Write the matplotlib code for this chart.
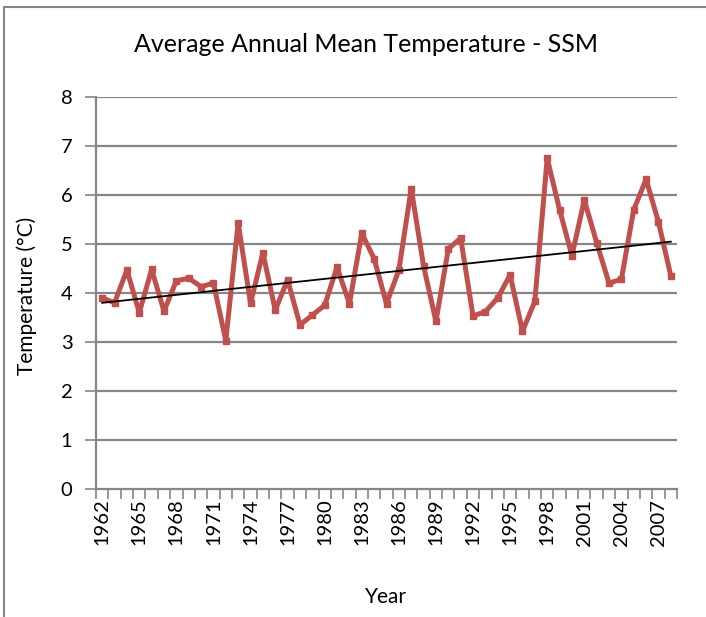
import numpy as np
import matplotlib
matplotlib.use("Agg")
import matplotlib.pyplot as plt
from matplotlib.patches import Rectangle

years = list(range(1962, 2009))
temps = [3.90, 3.80, 4.47, 3.60, 4.48, 3.63, 4.25, 4.30, 4.13, 4.20,
         3.03, 5.43, 3.79, 4.82, 3.65, 4.27, 3.35, 3.55, 3.75, 4.53,
         3.78, 5.22, 4.70, 3.78, 4.47, 6.13, 4.55, 3.42, 4.90, 5.12,
         3.53, 3.62, 3.90, 4.37, 3.22, 3.83, 6.75, 5.70, 4.76, 5.90,
         5.03, 4.20, 4.28, 5.70, 6.32, 5.45, 4.35]
title = "Average Annual Mean Temperature - SSM"
xlabel = "Year"
ylabel = "Temperature (°C)"

plt.rcParams['font.family'] = ['Lato', 'DejaVu Sans']

W, H = 706, 617
fig = plt.figure(figsize=(W / 100, H / 100), dpi=100)
fig.patch.set_facecolor('white')
fig.patches.append(Rectangle((4 / W, -0.1), 1.2, 1 - 7 / H + 0.1, transform=fig.transFigure,
                             fill=False, edgecolor='#868686', linewidth=1.5, zorder=0))

left, right, top, bottom = 96, 677, 97, 489
ax = fig.add_axes([left / W, 1 - bottom / H, (right - left) / W, (bottom - top) / H])

x = np.arange(len(years))
grid_color = '#868686'
for v in range(1, 9):
    ax.axhline(v, color=grid_color, linewidth=1.6, zorder=1)

ax.plot(x, temps, color='#C0504D', linewidth=3.6, marker='s', markersize=4.5,
        solid_joinstyle='round', zorder=3)
coef = np.polyfit(x, temps, 1)
ax.plot(x, np.polyval(coef, x), color='black', linewidth=1.3, zorder=4)

ax.set_xlim(-0.5, len(years) - 0.5)
ax.set_ylim(0, 8)
ax.set_yticks(range(0, 9))
ax.set_xticks(x[::3])
ax.set_xticklabels([str(y) for y in years[::3]], rotation=90)
ax.set_xticks(np.arange(-0.5, len(years)), minor=True)
ax.tick_params(axis='x', which='major', length=0, pad=7, labelsize=14.5)
ax.tick_params(axis='x', which='minor', length=7, width=1.2, color=grid_color, direction='out')
ax.tick_params(axis='y', length=8, width=1.2, color=grid_color, labelsize=14.5, pad=9)

for s in ['top', 'right']:
    ax.spines[s].set_visible(False)
for s in ['left', 'bottom']:
    ax.spines[s].set_color(grid_color)
    ax.spines[s].set_linewidth(1.6)

fig.text(366 / W, 1 - 45 / H, title, ha='center', va='center', fontsize=18)
fig.text(386 / W, 1 - 597 / H, xlabel, ha='center', va='center', fontsize=15)
fig.text(27 / W, 1 - 296 / H, ylabel, ha='center', va='center', rotation=90, fontsize=15)

fig.savefig('out.png', dpi=100, facecolor='white')
